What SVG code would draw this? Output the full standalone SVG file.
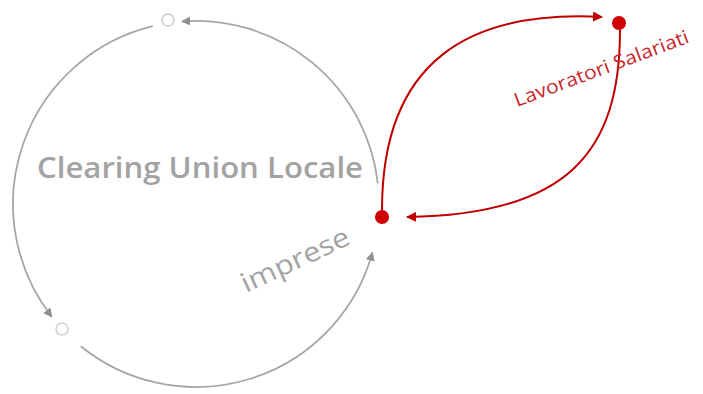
<svg xmlns="http://www.w3.org/2000/svg" width="703" height="394" viewBox="0 0 703 394">
<style>
.garc{fill:none;stroke:#a6a6a6;stroke-width:1.8}
.rarc{fill:none;stroke:#c00000;stroke-width:2}
.hollow{fill:#fff;stroke:#cfcfcf;stroke-width:1.6}
.red{fill:#d00000}
.gt{font-family:"Open Sans","Liberation Sans",sans-serif;fill:#a3a3a3}
.rt{font-family:"Open Sans","Liberation Sans",sans-serif;fill:#c8262b}
</style>
<defs>
<marker id="ga" viewBox="0 0 10 10" refX="9" refY="5" markerWidth="5" markerHeight="5" orient="auto" markerUnits="strokeWidth">
<path d="M0,0 L10,5 L0,10 z" fill="#8f8f8f"/>
</marker>
<marker id="ra" viewBox="0 0 10 10" refX="9" refY="5" markerWidth="5" markerHeight="5" orient="auto" markerUnits="strokeWidth">
<path d="M0,0 L10,5 L0,10 z" fill="#c00000"/>
</marker>
</defs>
<rect width="703" height="394" fill="#fff"/>
<g id="connectors">
<path class="garc" d="M377.8,183.3 A183,183 0 0 0 182,21.5" marker-end="url(#ga)"/>
<path class="garc" d="M152.7,26.2 A183,183 0 0 0 51.8,316.7" marker-end="url(#ga)"/>
<path class="garc" d="M80.8,346.2 A183,183 0 0 0 372.4,252.6" marker-end="url(#ga)"/>
<path class="rarc" d="M382,210 C382,60 470,10 602,17" marker-end="url(#ra)"/>
<path class="rarc" d="M620,30 C620,150 570,215 407,217" marker-end="url(#ra)"/>
</g>
<g id="clearing-union">
<text class="gt" x="37" y="178" font-size="28" font-weight="600" textLength="326" lengthAdjust="spacingAndGlyphs">Clearing Union Locale</text>
</g>
<g id="node-top">
<circle class="hollow" cx="168" cy="20" r="6"/>
</g>
<g id="node-bottom-left">
<circle class="hollow" cx="62" cy="329" r="6"/>
</g>
<g id="imprese">
<circle class="red" cx="382" cy="217" r="7"/>
<text class="gt" transform="translate(246,293) rotate(-25)" font-size="27" textLength="117" lengthAdjust="spacingAndGlyphs">imprese</text>
</g>
<g id="lavoratori">
<circle class="red" cx="619" cy="23" r="7"/>
<text class="rt" transform="translate(517,107) rotate(-20.5)" font-size="19" textLength="185" lengthAdjust="spacingAndGlyphs">Lavoratori Salariati</text>
</g>
</svg>
